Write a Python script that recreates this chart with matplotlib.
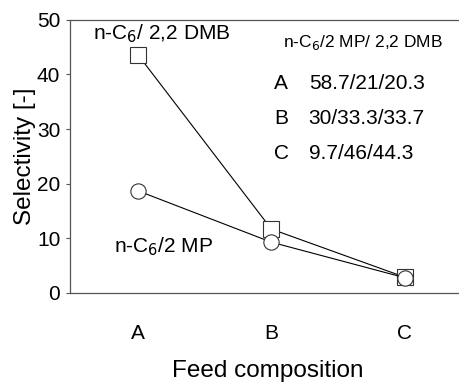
import matplotlib.pyplot as plt

plt.rcParams["font.family"] = ["Liberation Sans", "DejaVu Sans"]

categories = ["A", "B", "C"]
sel_dmb = [43.6, 11.7, 2.9]
sel_mp = [18.7, 9.3, 2.8]
compositions = ["58.7/21/20.3", "30/33.3/33.7", "9.7/46/44.3"]

fig = plt.figure(figsize=(4.59, 3.82), dpi=100)
ax = fig.add_axes([0.1525, 0.233, 0.86, 0.715])

x = list(range(len(categories)))
ax.plot(x, sel_dmb, color="black", lw=0.8, marker="s", ms=11,
        mfc="white", mec="#333333", mew=0.8)
ax.plot(x, sel_mp, color="black", lw=0.8, marker="o", ms=11,
        mfc="white", mec="#333333", mew=0.8)

ax.set_xlim(-0.51, 2.45)
ax.set_ylim(0, 50)
ax.set_xticks(x)
ax.set_xticklabels(categories)
ax.set_yticks([0, 10, 20, 30, 40, 50])
ax.tick_params(axis="y", length=3, color="#555555", labelsize=15, pad=4)
ax.tick_params(axis="x", length=0, labelsize=15, pad=22)
for s in ["top", "left", "bottom"]:
    ax.spines[s].set_color("#555555")
    ax.spines[s].set_linewidth(0.9)
ax.spines["right"].set_visible(False)

ax.set_ylabel("Selectivity [-]", fontsize=17.5)
ax.yaxis.set_label_coords(-0.085, 0.5)
ax.set_xlabel("Feed composition", fontsize=17.5)
ax.xaxis.set_label_coords(0.5, -0.245)

ax.text(-0.34, 47.5, "n-C$_6$/ 2,2 DMB", fontsize=15, va="center")
ax.text(-0.18, 8.4, "n-C$_6$/2 MP", fontsize=15, va="center")
ax.text(1.09, 45.8, "n-C$_6$/2 MP/ 2,2 DMB", fontsize=12.5, va="center")
for i, (c, comp) in enumerate(zip(categories, compositions)):
    yy = 38.4 - i * 6.4
    ax.text(1.02, yy, c, fontsize=15, va="center")
    ax.text(1.28, yy, comp, fontsize=15, va="center")

fig.savefig("out.png", dpi=100)
